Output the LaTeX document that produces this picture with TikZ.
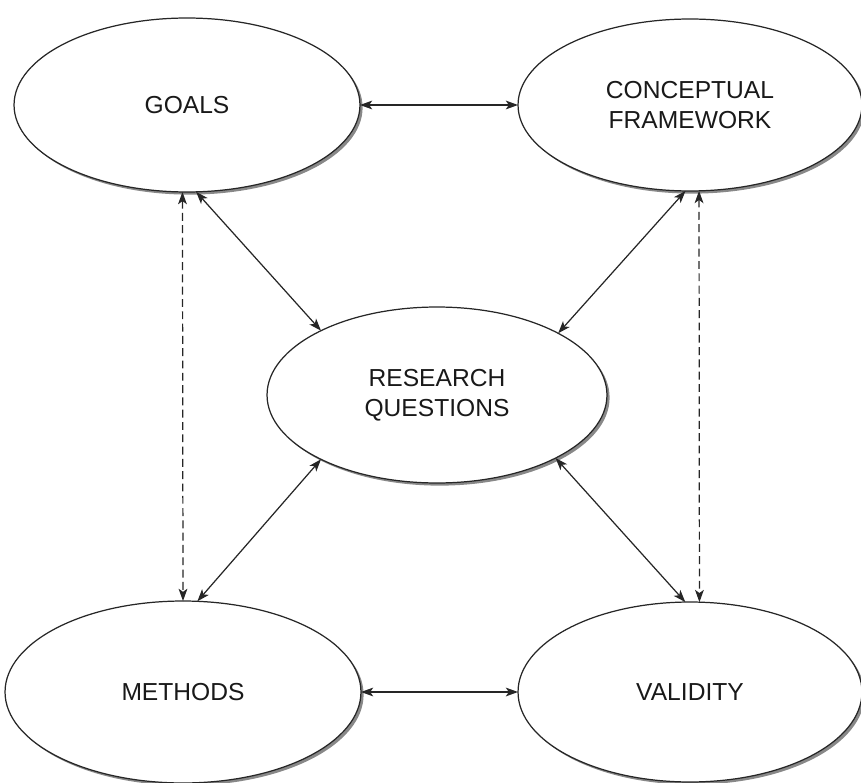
\documentclass[tikz,border=0pt]{standalone}
\usepackage{fontspec}
\setmainfont{Liberation Sans}
\usetikzlibrary{shapes.geometric, shadows, arrows.meta}

\begin{document}
\begin{tikzpicture}[x=0.02cm, y=-0.02cm,
		topic/.style={ellipse, draw=black!85, line width=0.7pt, fill=white, inner sep=0pt, outer sep=0pt,
			align=center, font=\fontsize{14}{17}\selectfont, text=black!90,
			drop shadow={shadow xshift=1.5pt, shadow yshift=-1.5pt, fill=black!55, opacity=0.85}},
		link/.style={{Stealth[length=7pt, width=5pt, inset=1.8pt]}-{Stealth[length=7pt, width=5pt, inset=1.8pt]}, line width=0.7pt, black!85},
		loose/.style={link, dash pattern=on 4.5pt off 2.5pt}]
		\useasboundingbox (0,0) rectangle (861,783);
		% the five parts of the design
		\node [topic, minimum width=6.92cm, minimum height=3.48cm] (goals) at (187,105) {GOALS};
		\node [topic, minimum width=6.88cm, minimum height=3.44cm] (framework) at (690,105) {CONCEPTUAL\\ FRAMEWORK};
		\node [topic, minimum width=6.8cm, minimum height=3.52cm] (questions) at (437,395) {RESEARCH\\ QUESTIONS};
		\node [topic, minimum width=7.12cm, minimum height=3.64cm] (methods) at (183,692) {METHODS};
		\node [topic, minimum width=6.88cm, minimum height=3.6cm] (validity) at (690,692) {VALIDITY};
		% links
		\draw [link] (goals.east) -- (framework.west);
		\draw [link] (methods.east) -- (validity.west);
		\draw [link] (goals.-84) -- (questions.151);
		\draw [link] (framework.-93) -- (questions.27);
		\draw [link] (questions.-151) -- (methods.81);
		\draw [link] (questions.-28) -- (validity.93);
		\draw [loose] (goals.-93) -- (methods.90);
		\draw [loose] (framework.-84) -- (validity.84);
	\end{tikzpicture}
\end{document}
